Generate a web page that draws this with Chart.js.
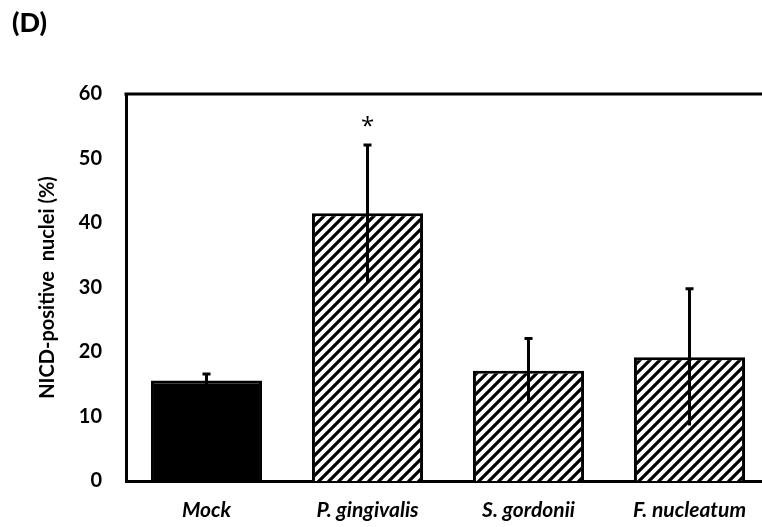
<!DOCTYPE html>
<html>
<head>
<meta charset="utf-8">
<script src="https://cdn.jsdelivr.net/npm/chart.js@4.4.1/dist/chart.umd.min.js"></script>
<style>
  html, body { margin: 0; padding: 0; background: #fff; overflow: hidden; }
  #wrap { position: relative; width: 775px; height: 527px; }
  #panel { position: absolute; left: 12px; top: 5px; font: 900 27px Lato, sans-serif; color: #000; }
</style>
</head>
<body>
<div id="wrap">
  <div id="panel">(D)</div>
  <canvas id="chart" width="775" height="527"></canvas>
</div>
<script>
// ---- data ----
const categories = ["Mock", "P. gingivalis", "S. gordonii", "F. nucleatum"];
const means = [15.6, 41.5, 17.1, 19.2];
const errors = [1.0, 10.6, 5.0, 10.6];
const significance = ["", "*", "", ""];
const yTicks = [0, 10, 20, 30, 40, 50, 60];

const FONT = 'Lato, "Open Sans", sans-serif';

// hatch pattern (upward diagonal)
function makeHatch() {
  const size = 10;
  const c = document.createElement("canvas");
  c.width = size;
  c.height = size;
  const g = c.getContext("2d");
  g.fillStyle = "#fff";
  g.fillRect(0, 0, size, size);
  g.strokeStyle = "#000";
  g.lineWidth = 3.2;
  g.beginPath();
  g.moveTo(-2, size + 2); g.lineTo(size + 2, -2);
  g.moveTo(-2, 2); g.lineTo(2, -2);
  g.moveTo(size - 2, size + 2); g.lineTo(size + 2, size - 2);
  g.stroke();
  return g.createPattern(c, "repeat");
}
const hatch = makeHatch();
const fills = categories.map((c, i) => (i === 0 ? "#000" : hatch));

// error bars + significance marks + top frame line
const extrasPlugin = {
  id: "extras",
  afterDatasetsDraw(chart) {
    const ctx = chart.ctx;
    const xs = chart.scales.x;
    const ys = chart.scales.y;
    const area = chart.chartArea;
    ctx.save();
    ctx.strokeStyle = "#000";
    ctx.lineWidth = 3;
    // top frame
    ctx.beginPath();
    ctx.moveTo(area.left - 1.5, area.top);
    ctx.lineTo(area.right + 10, area.top);
    ctx.stroke();
    means.forEach((m, i) => {
      const x = xs.getPixelForValue(i);
      const yHi = ys.getPixelForValue(m + errors[i]);
      const yLo = ys.getPixelForValue(m - errors[i]);
      ctx.beginPath();
      ctx.moveTo(x, yLo);
      ctx.lineTo(x, yHi);
      ctx.moveTo(x - 4, yHi);
      ctx.lineTo(x + 4, yHi);
      ctx.stroke();
      if (significance[i]) {
        ctx.fillStyle = "#000";
        ctx.font = '24px "Open Sans", sans-serif';
        ctx.textAlign = "center";
        ctx.textBaseline = "middle";
        ctx.fillText(significance[i], x, yHi - 18);
      }
    });
    ctx.restore();
  },
};

new Chart(document.getElementById("chart"), {
  type: "bar",
  data: {
    labels: categories,
    datasets: [{
      data: means,
      backgroundColor: fills,
      borderColor: "#000",
      borderWidth: 3,
      borderSkipped: "bottom",
      barPercentage: 0.69,
      categoryPercentage: 1,
    }],
  },
  options: {
    responsive: false,
    animation: false,
    layout: { padding: { left: 0, right: 5, top: 94, bottom: 0 } },
    plugins: { legend: { display: false }, tooltip: { enabled: false } },
    scales: {
      x: {
        grid: { display: false, drawTicks: false },
        border: { display: true, color: "#000", width: 3 },
        ticks: {
          padding: 17,
          color: "#000",
          font: { family: FONT, size: 21, weight: "bold", style: "italic" },
        },
        afterFit(scale) { scale.height = 46; },
      },
      y: {
        min: 0,
        max: 60,
        afterBuildTicks(scale) { scale.ticks = yTicks.map((v) => ({ value: v })); },
        grid: { display: false, drawTicks: false },
        border: { display: true, color: "#000", width: 3 },
        ticks: {
          padding: 24,
          color: "#000",
          font: { family: FONT, size: 20, weight: "bold" },
        },
        title: {
          display: true,
          text: "NICD-positive  nuclei (%)",
          color: "#000",
          padding: { top: 36, bottom: 0 },
          font: { family: FONT, size: 20, weight: "bold" },
        },
        afterFit(scale) { scale.width = 126; },
      },
    },
  },
  plugins: [extrasPlugin],
});
</script>
</body>
</html>
